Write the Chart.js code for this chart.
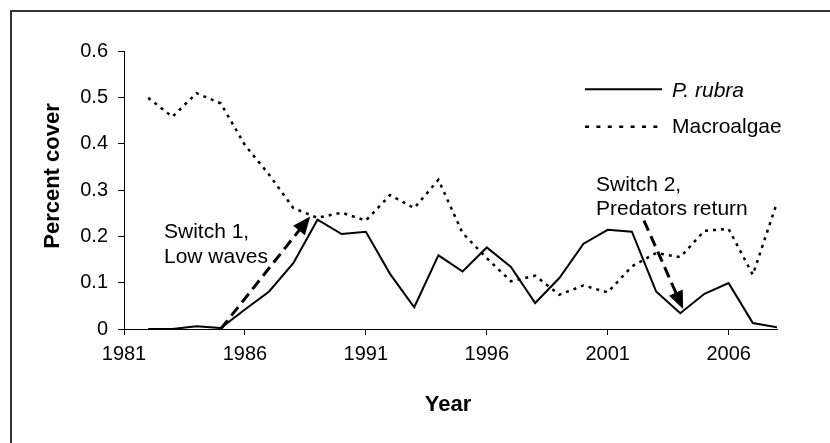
<!DOCTYPE html>
<html><head><meta charset="utf-8">
<script src="https://cdn.jsdelivr.net/npm/chart.js@4/dist/chart.umd.min.js"></script>
<style>html,body{margin:0;padding:0;background:#fff}#wrap{width:830px;height:443px}</style>
</head><body><div id="wrap"><canvas id="c" width="830" height="443"></canvas></div>
<script>
const years = [1982,1983,1984,1985,1986,1987,1988,1989,1990,1991,1992,1993,1994,1995,1996,1997,1998,1999,2000,2001,2002,2003,2004,2005,2006,2007,2008];
const rubra = [0,0,0.006,0.002,0.042,0.081,0.142,0.236,0.205,0.21,0.119,0.047,0.159,0.124,0.176,0.134,0.056,0.11,0.184,0.214,0.21,0.081,0.034,0.076,0.099,0.013,0.004];
const macroalgae = [0.499,0.458,0.509,0.487,0.397,0.333,0.261,0.24,0.251,0.234,0.289,0.261,0.322,0.207,0.153,0.103,0.115,0.074,0.094,0.079,0.135,0.164,0.155,0.212,0.216,0.117,0.273];
const xTicks = [1981,1986,1991,1996,2001,2006];
const seriesNames = ['P. rubra','Macroalgae'];
const xTitle = 'Year';
const yTitle = 'Percent cover';
const arrow1 = [[1985,0],[1988.7,0.243]];
const arrow2 = [[2002.5,0.234],[2004.12,0.043]];
const note1 = ['Switch 1,','Low waves'];
const note2 = ['Switch 2,','Predators return'];

const FONT = "'Liberation Sans', Arial, sans-serif";

function arrow(ctx, xs, ys, p) {
  const x0 = xs.getPixelForValue(p[0][0]), y0 = ys.getPixelForValue(p[0][1]);
  const x1 = xs.getPixelForValue(p[1][0]), y1 = ys.getPixelForValue(p[1][1]);
  const dx = x1 - x0, dy = y1 - y0, len = Math.hypot(dx, dy);
  const ux = dx / len, uy = dy / len;
  const L = 18, W = 7.5;
  const bx = x1 - ux * L, by = y1 - uy * L;
  ctx.save();
  ctx.strokeStyle = '#000'; ctx.lineWidth = 3; ctx.setLineDash([11, 6]);
  ctx.beginPath(); ctx.moveTo(x0, y0); ctx.lineTo(bx + ux * 2, by + uy * 2); ctx.stroke();
  ctx.setLineDash([]);
  ctx.fillStyle = '#000';
  ctx.beginPath();
  ctx.moveTo(x1, y1);
  ctx.lineTo(bx - uy * W, by + ux * W);
  ctx.lineTo(bx + uy * W, by - ux * W);
  ctx.closePath(); ctx.fill();
  ctx.restore();
}

const extras = {
  id: 'extras',
  afterDraw(chart) {
    const ctx = chart.ctx, xs = chart.scales.x, ys = chart.scales.y;
    ctx.save();
    // outer frame
    ctx.strokeStyle = '#333'; ctx.lineWidth = 2;
    ctx.beginPath(); ctx.moveTo(11, 445); ctx.lineTo(11, 11); ctx.lineTo(832, 11); ctx.stroke();
    // arrows
    arrow(ctx, xs, ys, arrow1);
    arrow(ctx, xs, ys, arrow2);
    // notes
    ctx.fillStyle = '#000';
    ctx.font = '21px ' + FONT;
    ctx.textAlign = 'left'; ctx.textBaseline = 'alphabetic';
    ctx.fillText(note1[0], 164, 238);
    ctx.fillText(note1[1], 164, 262.5);
    ctx.fillText(note2[0], 596, 190.5);
    ctx.fillText(note2[1], 596, 214.5);
    // legend
    ctx.strokeStyle = '#000';
    ctx.lineWidth = 2; ctx.setLineDash([]);
    ctx.beginPath(); ctx.moveTo(585, 89.3); ctx.lineTo(662, 89.3); ctx.stroke();
    ctx.lineWidth = 2.5; ctx.setLineDash([4, 7.4]);
    ctx.beginPath(); ctx.moveTo(585, 126.7); ctx.lineTo(662, 126.7); ctx.stroke();
    ctx.setLineDash([]);
    ctx.font = 'italic 21px ' + FONT;
    ctx.fillText(seriesNames[0], 672, 96.7);
    ctx.font = '21px ' + FONT;
    ctx.fillText(seriesNames[1], 672, 133.3);
    // axis titles
    ctx.font = 'bold 22px ' + FONT;
    ctx.textAlign = 'center'; ctx.textBaseline = 'middle';
    ctx.fillText(xTitle, 448, 405);
    ctx.translate(53, 176); ctx.rotate(-Math.PI / 2);
    ctx.fillText(yTitle, 0, 0);
    ctx.restore();
  }
};

new Chart(document.getElementById('c'), {
  type: 'line',
  data: {
    datasets: [
      { label: seriesNames[0], data: years.map((y, i) => ({ x: y, y: rubra[i] })),
        borderColor: '#000', borderWidth: 2, pointRadius: 0, tension: 0, fill: false },
      { label: seriesNames[1], data: years.map((y, i) => ({ x: y, y: macroalgae[i] })),
        borderColor: '#000', borderWidth: 2.5, borderDash: [3, 5], pointRadius: 0, tension: 0, fill: false }
    ]
  },
  options: {
    responsive: false, animation: false, devicePixelRatio: 1,
    layout: { padding: { top: 51, right: 53, bottom: 0, left: 0 } },
    plugins: { legend: { display: false }, tooltip: { enabled: false } },
    scales: {
      x: {
        type: 'linear', min: 1981, max: 2008,
        afterBuildTicks: s => { s.ticks = xTicks.map(v => ({ value: v })); },
        afterFit: s => { s.height = 114; },
        grid: { display: true, drawOnChartArea: false, drawTicks: true, tickLength: 6, color: '#000', lineWidth: 1 },
        border: { display: true, color: '#000', width: 1 },
        ticks: { color: '#000', font: { family: FONT, size: 20 }, padding: 7, maxRotation: 0, autoSkip: false, callback: v => String(v) }
      },
      y: {
        min: 0, max: 0.6,
        ticks: { stepSize: 0.1, color: '#000', font: { family: FONT, size: 20 }, padding: 10,
          callback: v => (Math.abs(v) < 1e-9 ? '0' : v.toFixed(1)) },
        afterFit: s => { s.width = 124; },
        grid: { display: true, drawOnChartArea: false, drawTicks: true, tickLength: 6, color: '#000', lineWidth: 1 },
        border: { display: true, color: '#000', width: 1 }
      }
    }
  },
  plugins: [extras]
});
</script>
</body></html>
